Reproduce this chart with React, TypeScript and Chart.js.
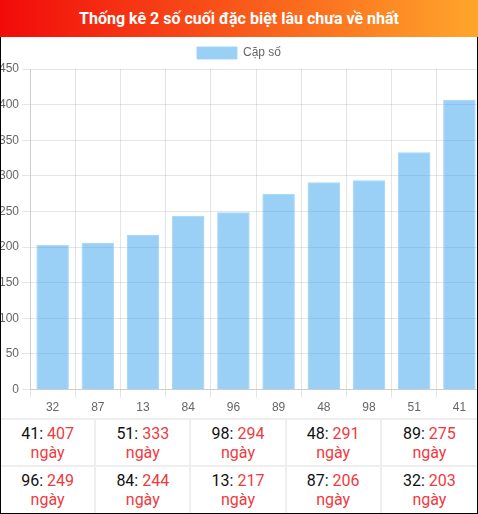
import React, { useEffect, useRef } from "react";
import { Chart, registerables } from "chart.js";

Chart.register(...registerables);

const categories = ["32", "87", "13", "84", "96", "89", "48", "98", "51", "41"];
const values = [203, 206, 217, 244, 249, 275, 291, 294, 333, 407];
const seriesLabel = "Cặp số";
const title = "Thống kê 2 số cuối đặc biệt lâu chưa về nhất";
const tableNumbers = ["41", "51", "98", "48", "89", "96", "84", "13", "87", "32"];
const tableDays = [407, 333, 294, 291, 275, 249, 244, 217, 206, 203];
const yTicksMax = 450;
const yTicksStep = 50;

export default function App() {
  const canvasRef = useRef<HTMLCanvasElement | null>(null);

  useEffect(() => {
    if (!canvasRef.current) return;
    const chart = new Chart(canvasRef.current, {
      type: "bar",
      data: {
        labels: categories,
        datasets: [
          {
            label: seriesLabel,
            data: values,
            backgroundColor: "rgba(54,162,235,0.5)",
            borderColor: "rgba(160,212,247,0.9)",
            borderWidth: 1,
          },
        ],
      },
      options: {
        animation: false,
        responsive: false,
        maintainAspectRatio: false,
        layout: { padding: 0 },
        plugins: {
          legend: {
            display: true,
            labels: { color: "#666", font: { size: 12 }, boxWidth: 40, boxHeight: 12 },
          },
          tooltip: { enabled: false },
        },
        scales: {
          x: {
            grid: { color: "rgba(0,0,0,0.1)", offset: true },
            ticks: { color: "#666", font: { size: 12 } },
          },
          y: {
            min: 0,
            max: yTicksMax,
            grid: { color: "rgba(0,0,0,0.1)" },
            ticks: { stepSize: yTicksStep, color: "#666", font: { size: 12 } },
          },
        },
      },
    });
    return () => chart.destroy();
  }, []);

  const cell = (i: number, col: number) => (
    <div
      key={i}
      style={{
        borderTop: "2px solid #eee",
        borderRight: col < 4 ? "2px solid #eee" : "none",
        textAlign: "center",
        fontSize: 16,
        lineHeight: "19px",
        paddingTop: 4,
        boxSizing: "border-box",
      }}
    >
      <div>
        <span style={{ color: "#111" }}>{tableNumbers[i]}: </span>
        <span style={{ color: "#ef3a40" }}>{tableDays[i]}</span>
      </div>
      <div style={{ color: "#ef3a40" }}>ngày</div>
    </div>
  );

  return (
    <div
      style={{
        position: "relative",
        width: 478,
        height: 514,
        overflow: "hidden",
        background: "#fff",
        fontFamily: "Roboto, 'Noto Sans', sans-serif",
      }}
    >
      <style>{"body{margin:0}"}</style>
      <div
        style={{
          position: "absolute",
          left: 0,
          top: 0,
          width: 478,
          height: 37,
          background: "linear-gradient(to right, #f20a0a, #ffa62b)",
          color: "#fff",
          fontWeight: 700,
          fontSize: 16,
          lineHeight: "37px",
          textAlign: "center",
          zIndex: 2,
        }}
      >
        {title}
      </div>
      <div style={{ position: "absolute", left: -4, top: 37, width: 486, height: 381 }}>
        <canvas ref={canvasRef} width={486} height={381} style={{ display: "block", width: 486, height: 381 }} />
      </div>
      <div
        style={{
          position: "absolute",
          left: 1,
          top: 418,
          width: 476,
          height: 95,
          display: "grid",
          gridTemplateColumns: "repeat(5, 1fr)",
          gridTemplateRows: "47px 48px",
        }}
      >
        {[0, 1, 2, 3, 4, 5, 6, 7, 8, 9].map((i) => cell(i, i % 5))}
      </div>
      <div
        style={{
          position: "absolute",
          left: 0,
          top: 37,
          width: 478,
          height: 477,
          borderLeft: "1px solid #000",
          borderRight: "1px solid #000",
          borderBottom: "1px solid #000",
          boxSizing: "border-box",
          pointerEvents: "none",
          zIndex: 3,
        }}
      />
    </div>
  );
}
